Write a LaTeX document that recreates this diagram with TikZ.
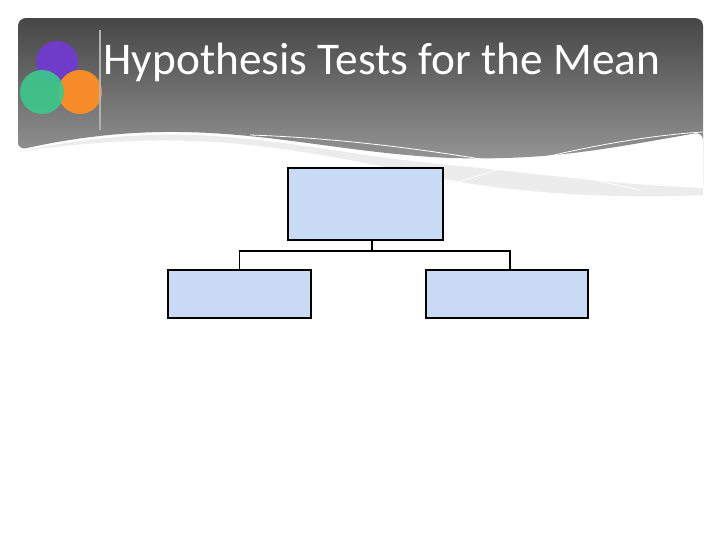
\documentclass[tikz,border=0pt]{standalone}
\usepackage{fontspec}
\setmainfont{Carlito}
\begin{document}
\begin{tikzpicture}[x=0.75pt,y=-0.75pt,
  bx/.style={draw=black,line width=0.9pt,fill={rgb,255:red,201;green,218;blue,244}},
  conn/.style={draw=black,line width=1.2pt}]
\useasboundingbox (0,0) rectangle (720,540);
\fill[white] (0,0) rectangle (720,540);
% header
\shade[top color={rgb,255:red,70;green,70;blue,70},bottom color={rgb,255:red,165;green,165;blue,165},rounded corners=6pt]
  (18,150) -- (18,18) -- (703,18) -- (703,190) -- (703,132)
  .. controls (600,150) and (550,160) .. (450,158)
  .. controls (300,150) and (200,110) .. (18,150) -- cycle;
\fill[white!85!gray] (18,152) .. controls (200,112) and (300,152) .. (450,165)
  .. controls (550,175) and (620,185) .. (703,188) -- (703,195) .. controls (600,200) and (500,190) .. (450,180)
  .. controls (300,150) and (200,125) .. (18,152) -- cycle;
\draw[white,line width=0.6pt] (450,185) .. controls (550,150) and (650,135) .. (703,132);
\draw[white,line width=0.6pt] (250,135) .. controls (400,140) and (550,170) .. (640,190);
\fill[fill={rgb,255:red,110;green,60;blue,200}] (57,62) circle (21);
\fill[fill={rgb,255:red,245;green,140;blue,40}] (80,92) circle (22);
\fill[fill={rgb,255:red,60;green,200;blue,140},opacity=0.9] (42,92) circle (22);
\draw[gray!60,line width=2pt] (100,30) -- (100,130);
\node[anchor=west,text=white,font=\fontsize{34}{38}\selectfont] (title) at (99,62) {Hypothesis Tests for the Mean};
% boxes
\node[bx,minimum width=155*0.75pt,minimum height=72*0.75pt,inner sep=0] (top) at (365.5,204) {};
\node[bx,minimum width=143*0.75pt,minimum height=48*0.75pt,inner sep=0] (left) at (239.5,294) {};
\node[bx,minimum width=162*0.75pt,minimum height=48*0.75pt,inner sep=0] (right) at (507,294) {};
\coordinate (mid) at (372,251);
\coordinate (rc) at (510,251);
\draw[conn] (top.south -| mid) -- (mid);
\draw[conn] (left.north) |- (mid) -- (rc) -- (rc |- right.north);
\end{tikzpicture}
\end{document}
